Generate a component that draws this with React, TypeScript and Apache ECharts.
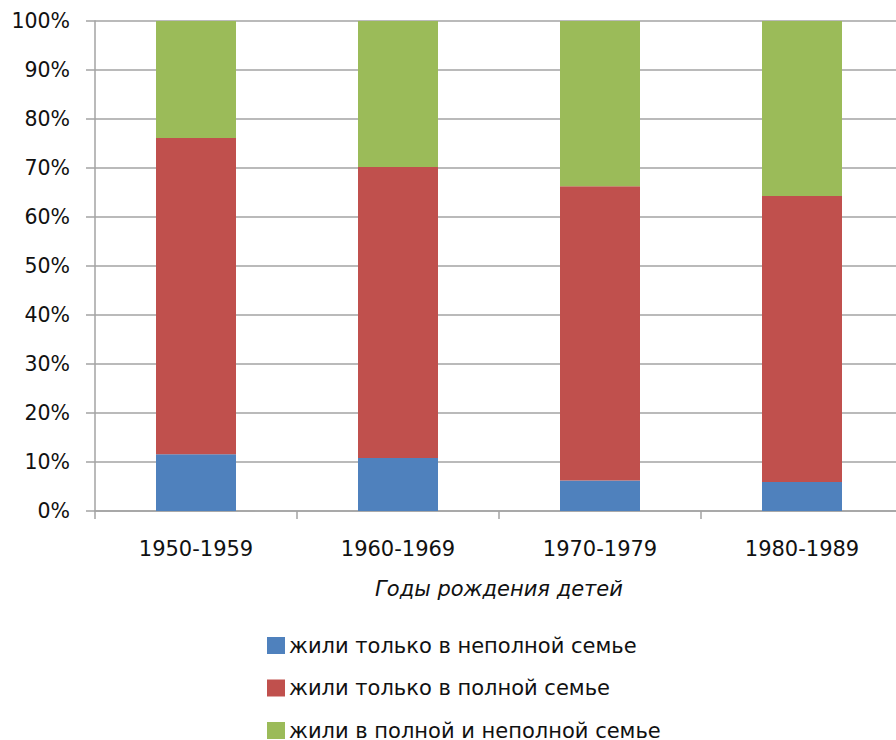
import React, { useEffect, useRef } from "react";
import * as echarts from "echarts";

const categories = ["1950-1959", "1960-1969", "1970-1979", "1980-1989"];
const onlyIncomplete = [11.6, 10.8, 6.2, 5.9];
const onlyComplete = [64.5, 59.4, 60.1, 58.4];
const both = [23.9, 29.8, 33.7, 35.7];
const seriesNames = [
  "жили только в неполной семье",
  "жили только в полной семье",
  "жили в полной и неполной семье",
];
const axisTitle = "Годы рождения детей";

const FONT = "DejaVu Sans";
const GRID = "#a3a3a3";

export default function App() {
  const ref = useRef<HTMLDivElement>(null);
  useEffect(() => {
    if (!ref.current) return;
    const chart = echarts.init(ref.current, undefined, { renderer: "svg" });
    const colors = ["#4f81bd", "#c0504d", "#9bbb59"];
    const data = [onlyIncomplete, onlyComplete, both];
    chart.setOption({
      animation: false,
      backgroundColor: "#ffffff",
      grid: { left: 95, width: 808, top: 21, height: 490, containLabel: false },
      legend: seriesNames.map((name, i) => ({
        orient: "vertical",
        left: 267,
        top: 635 + i * 42.5,
        padding: 0,
        itemWidth: 18,
        itemHeight: 17,
        icon: "rect",
        data: [name],
        textStyle: {
          fontFamily: FONT,
          fontSize: 21,
          lineHeight: 17,
          color: "#111",
          padding: [0, 0, 0, -1],
        },
      })),
      xAxis: {
        type: "category",
        data: categories,
        boundaryGap: true,
        name: axisTitle,
        nameLocation: "middle",
        nameGap: 67,
        nameTextStyle: { fontFamily: FONT, fontSize: 21, fontStyle: "italic", color: "#111" },
        axisLine: { show: true, lineStyle: { color: GRID, width: 1.5 } },
        axisTick: { show: true, length: 8, alignWithLabel: false, lineStyle: { color: GRID, width: 1.5 } },
        axisLabel: { fontFamily: FONT, fontSize: 21, color: "#111", margin: 27 },
        splitLine: { show: false },
      },
      yAxis: {
        type: "value",
        min: 0,
        max: 100,
        interval: 10,
        axisLine: { show: true, lineStyle: { color: GRID, width: 1.5 } },
        axisTick: { show: true, length: 9, lineStyle: { color: GRID, width: 1.5 } },
        axisLabel: { fontFamily: FONT, fontSize: 20.5, color: "#111", margin: 25, formatter: "{value}%" },
        splitLine: { show: true, lineStyle: { color: GRID, width: 1.5 } },
      },
      series: seriesNames.map((name, i) => ({
        name,
        type: "bar",
        stack: "total",
        barWidth: 80,
        data: data[i],
        itemStyle: { color: colors[i] },
      })),
    });
    return () => chart.dispose();
  }, []);
  return (
    <div
      ref={ref}
      style={{ position: "fixed", left: 0, top: 0, width: 910, height: 740, background: "#fff" }}
    />
  );
}
